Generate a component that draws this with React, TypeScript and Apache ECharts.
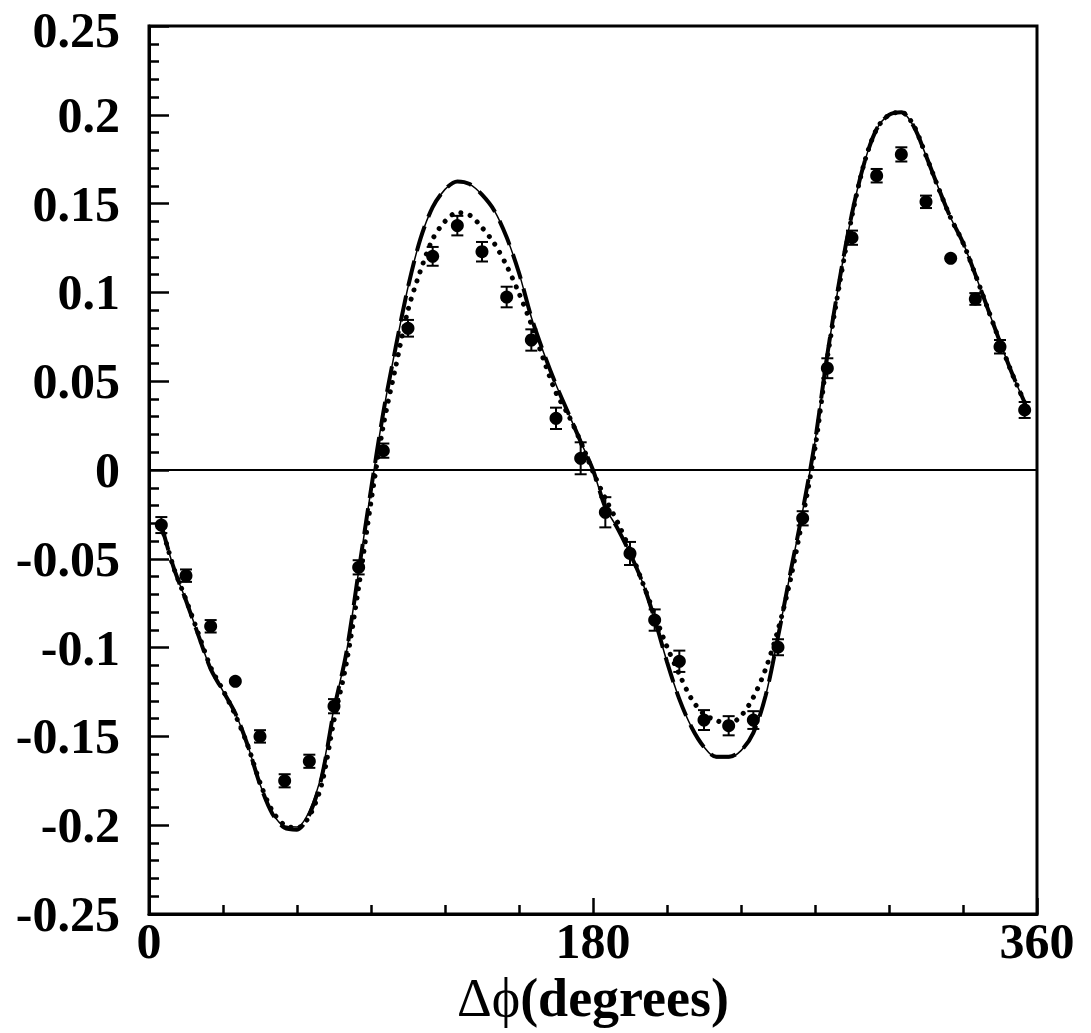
import React, { useEffect, useRef } from 'react';
import * as echarts from 'echarts';

const FONT = '"Liberation Serif", "Times New Roman", Times, serif';

// measured data points (bin centres in degrees)
const phiBins = [5, 15, 25, 35, 45, 55, 65, 75, 85, 95, 105, 115, 125, 135, 145, 155, 165, 175,
  185, 195, 205, 215, 225, 235, 245, 255, 265, 275, 285, 295, 305, 315, 325, 335, 345, 355];
const dataValues = [-0.031, -0.0595, -0.088, -0.119, -0.150, -0.175, -0.164, -0.133, -0.0548, 0.0109,
  0.0798, 0.1203, 0.1376, 0.1229, 0.0974, 0.0732, 0.0291, 0.0066, -0.0238, -0.047, -0.0845, -0.1077,
  -0.1408, -0.144, -0.1408, -0.0998, -0.0272, 0.0573, 0.1308, 0.1657, 0.1777, 0.151, 0.1192, 0.0963,
  0.0694, 0.0338];
const dataErrors = [0.0045, 0.0035, 0.0035, 0, 0.0035, 0.0037, 0.0037, 0.004, 0.004, 0.004, 0.0047,
  0.0053, 0.0055, 0.0055, 0.0058, 0.006, 0.006, 0.009, 0.0085, 0.0065, 0.006, 0.006, 0.0056, 0.0054,
  0.005, 0.0045, 0.004, 0.0056, 0.004, 0.0038, 0.004, 0.0035, 0, 0.0033, 0.0038, 0.0045];

// model curves sampled every 5 degrees
const curveAngles = [5, 10, 15, 20, 25, 30, 35, 40, 45, 50, 55, 60, 65, 70, 75, 80, 85, 90, 95, 100,
  105, 110, 115, 120, 125, 130, 135, 140, 145, 150, 155, 160, 165, 170, 175, 180, 185, 190, 195, 200,
  205, 210, 215, 220, 225, 230, 235, 240, 245, 250, 255, 260, 265, 270, 275, 280, 285, 290, 295, 300,
  305, 310, 315, 320, 325, 330, 335, 340, 345, 350, 355];
const solidCurve = [-0.031, -0.055, -0.0735, -0.093, -0.112, -0.1245, -0.137, -0.155, -0.177, -0.193,
  -0.2005, -0.201, -0.192, -0.171, -0.134, -0.103, -0.057, -0.011, 0.0325, 0.069, 0.103, 0.130, 0.148,
  0.158, 0.1625, 0.161, 0.155, 0.146, 0.131, 0.111, 0.086, 0.066, 0.048, 0.032, 0.016, 0.0, -0.021,
  -0.033, -0.047, -0.063, -0.084, -0.108, -0.129, -0.145, -0.156, -0.162, -0.162, -0.158, -0.148,
  -0.127, -0.094, -0.058, -0.023, 0.016, 0.065, 0.1075, 0.1445, 0.173, 0.192, 0.200, 0.2015, 0.1935,
  0.177, 0.159, 0.142, 0.128, 0.110, 0.091, 0.072, 0.054, 0.038];
const dashedCurve = [-0.031, -0.055, -0.0735, -0.093, -0.112, -0.1245, -0.137, -0.155, -0.177, -0.1935,
  -0.2015, -0.2025, -0.194, -0.173, -0.135, -0.103, -0.057, -0.011, 0.0325, 0.069, 0.103, 0.130, 0.148,
  0.158, 0.1625, 0.161, 0.155, 0.146, 0.131, 0.111, 0.086, 0.066, 0.048, 0.032, 0.016, 0.0, -0.021,
  -0.033, -0.047, -0.063, -0.084, -0.108, -0.129, -0.145, -0.156, -0.1615, -0.1615, -0.158, -0.148,
  -0.127, -0.094, -0.058, -0.023, 0.016, 0.065, 0.1075, 0.1445, 0.173, 0.192, 0.200, 0.2015, 0.1935,
  0.177, 0.159, 0.142, 0.128, 0.110, 0.091, 0.072, 0.054, 0.038];
const dottedCurve = [-0.031, -0.055, -0.073, -0.092, -0.111, -0.124, -0.138, -0.155, -0.176, -0.192,
  -0.200, -0.2015, -0.195, -0.177, -0.141, -0.109, -0.066, -0.018, 0.025, 0.058, 0.090, 0.112, 0.130,
  0.140, 0.145, 0.1435, 0.1365, 0.1275, 0.115, 0.0995, 0.082, 0.062, 0.0435, 0.031, 0.016, -0.001,
  -0.016, -0.0295, -0.045, -0.063, -0.0815, -0.0995, -0.115, -0.129, -0.1375, -0.141, -0.143, -0.1385,
  -0.128, -0.112, -0.090, -0.062, -0.027, 0.012, 0.063, 0.105, 0.143, 0.173, 0.192, 0.200, 0.2015,
  0.194, 0.177, 0.159, 0.142, 0.128, 0.110, 0.091, 0.072, 0.054, 0.038];

const xLabels = [0, 180, 360];

export default function App() {
  const ref = useRef<HTMLDivElement>(null);
  useEffect(() => {
    if (!ref.current) return;
    const chart = echarts.init(ref.current, undefined, { renderer: 'svg' });
    const pts = phiBins.map((p, i) => [p, dataValues[i]]);
    const errData = phiBins.map((p, i) => [p, dataValues[i], dataErrors[i]]);
    const curve = (arr: number[]) => curveAngles.map((a, i) => [a, arr[i]]);
    chart.setOption({
      animation: false,
      backgroundColor: '#ffffff',
      grid: {
        left: 149, right: 54, top: 26, bottom: 119,
        show: true, borderColor: '#000', borderWidth: 3,
        outerBoundsMode: 'none',
      },
      xAxis: {
        type: 'value', min: 0, max: 360, interval: 180,
        axisLine: { show: true, onZero: false, lineStyle: { color: '#000', width: 3 } },
        axisTick: { show: true, inside: true, length: 16, lineStyle: { color: '#000', width: 2.5 } },
        minorTick: { show: true, splitNumber: 6, length: 9, lineStyle: { color: '#000', width: 2.5 } },
        splitLine: { show: false },
        minorSplitLine: { show: false },
        axisLabel: {
          show: true, margin: 7, color: '#000', fontFamily: FONT, fontWeight: 'bold', fontSize: 50,
          lineHeight: 40,
          formatter: (v: number) => (xLabels.indexOf(Math.round(v)) >= 0 ? String(Math.round(v)) : ''),
        },
        name: '{s|Δϕ}{b|(degrees)}',
        nameLocation: 'middle',
        nameGap: 60,
        nameTextStyle: {
          color: '#000',
          rich: {
            s: { fontFamily: FONT, fontSize: 54, fontWeight: 'normal', color: '#000', lineHeight: 46 },
            b: { fontFamily: FONT, fontSize: 54, fontWeight: 'bold', color: '#000', lineHeight: 46 },
          },
        },
      },
      yAxis: {
        type: 'value', min: -0.25, max: 0.25, interval: 0.05,
        axisLine: { show: true, onZero: false, lineStyle: { color: '#000', width: 3 } },
        axisTick: { show: true, inside: true, length: 20, lineStyle: { color: '#000', width: 2.5 } },
        minorTick: { show: true, splitNumber: 5, length: 10, lineStyle: { color: '#000', width: 2.5 } },
        splitLine: { show: false },
        minorSplitLine: { show: false },
        axisLabel: {
          show: true, margin: 29, color: '#000', fontFamily: FONT, fontWeight: 'bold', fontSize: 50,
          lineHeight: 40,
          formatter: (v: number) => {
            const r = Math.round(v * 100) / 100;
            if (r === 0.25) return '{t|0.25}';
            return r === 0 ? '0' : String(r);
          },
          rich: {
            t: {
              fontFamily: FONT, fontWeight: 'bold', fontSize: 50, color: '#000',
              lineHeight: 40, padding: [8, 0, 0, 0],
            },
          },
        },
      },
      series: [
        {
          type: 'line', data: [[0, 0], [360, 0]], symbol: 'none', silent: true,
          lineStyle: { color: '#000', width: 2 }, z: 1,
        },
        {
          type: 'line', data: curve(solidCurve), symbol: 'none', smooth: 0.3,
          lineStyle: { color: '#000', width: 1.5 }, z: 2,
        },
        {
          type: 'line', data: curve(dashedCurve), symbol: 'none', smooth: 0.3,
          lineStyle: { color: '#000', width: 4, type: [26, 10] }, z: 2,
        },
        {
          type: 'line', data: curve(dottedCurve), symbol: 'none', smooth: 0.3,
          lineStyle: { color: '#000', width: 5, type: [0.01, 9.5], cap: 'round' }, z: 2,
        },
        {
          type: 'custom', data: errData, z: 3,
          renderItem: (params: any, api: any) => {
            const x = api.value(0), y = api.value(1), e = api.value(2);
            if (!e) return { type: 'group', children: [] };
            const top = api.coord([x, y + e]);
            const bot = api.coord([x, y - e]);
            const w = 6;
            const st = { stroke: '#000', lineWidth: 2 };
            return {
              type: 'group',
              children: [
                { type: 'line', shape: { x1: top[0], y1: top[1], x2: bot[0], y2: bot[1] }, style: st },
                { type: 'line', shape: { x1: top[0] - w, y1: top[1], x2: top[0] + w, y2: top[1] }, style: st },
                { type: 'line', shape: { x1: bot[0] - w, y1: bot[1], x2: bot[0] + w, y2: bot[1] }, style: st },
              ],
            };
          },
        },
        {
          type: 'scatter', data: pts, symbol: 'circle', symbolSize: 13, z: 4,
          itemStyle: { color: '#000', opacity: 1 },
        },
      ],
    });
    return () => chart.dispose();
  }, []);
  return (
    <div
      ref={ref}
      style={{ position: 'absolute', left: 0, top: 0, width: 1091, height: 1033, background: '#fff' }}
    />
  );
}
